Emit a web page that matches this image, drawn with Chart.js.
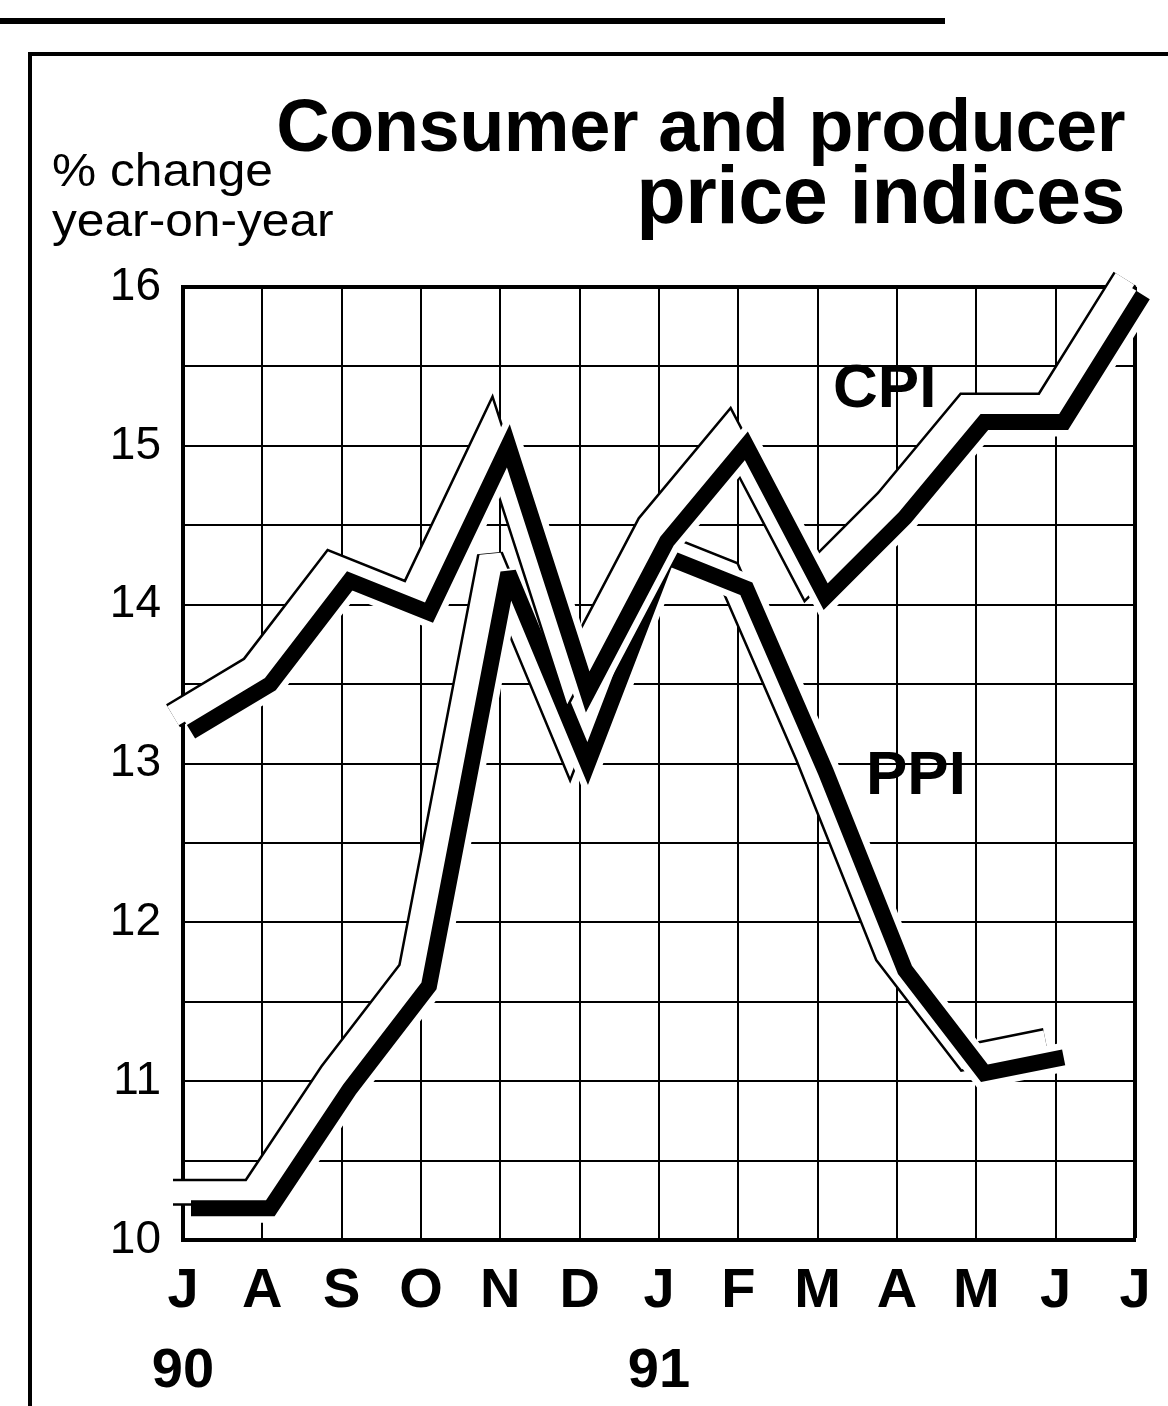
<!DOCTYPE html>
<html>
<head>
<meta charset="utf-8">
<title>Consumer and producer price indices</title>
<script src="https://cdn.jsdelivr.net/npm/chart.js@4.4.0/dist/chart.umd.min.js"></script>
<style>
  html, body { margin: 0; padding: 0; background: #fff; }
  body { width: 1168px; height: 1406px; position: relative; overflow: hidden;
         font-family: 'Liberation Sans', Arial, Helvetica, sans-serif; color: #000; }
  canvas { position: absolute; left: 0; top: 0; }
  .rule { position: absolute; background: #000; }
  .txt { position: absolute; white-space: nowrap; line-height: 1; }
  .title { font-weight: bold; right: 43px; letter-spacing: -0.5px; }
  .unit { font-size: 46px; left: 52px; transform: scaleX(1.08); transform-origin: left top; }
  .series { font-weight: bold; font-size: 62px; }
</style>
</head>
<body>
<canvas id="chart" width="1168" height="1406"></canvas>

<div class="rule" style="left:0;top:18px;width:945px;height:6px"></div>
<div class="rule" style="left:28px;top:52px;width:1140px;height:4px"></div>
<div class="rule" style="left:28px;top:52px;width:4px;height:1354px"></div>

<div class="txt title" style="top:89px;font-size:74px">Consumer and producer</div>
<div class="txt title" style="top:155px;font-size:81px">price indices</div>
<div class="txt unit" style="top:147px">% change</div>
<div class="txt unit" style="top:197px">year-on-year</div>
<div class="txt series" style="left:833px;top:355px">CPI</div>
<div class="txt series" style="left:866px;top:742px">PPI</div>

<script>
// months July 1990 - July 1991
const months = ['J', 'A', 'S', 'O', 'N', 'D', 'J', 'F', 'M', 'A', 'M', 'J', 'J'];
const years = ['90', '', '', '', '', '', '91', '', '', '', '', '', ''];

// % change year-on-year
const cpi = [13.2, 13.5, 14.15, 13.95, 15.0, 13.45, 14.4, 15.0, 14.05, 14.55, 15.15, 15.15, 15.95];
const ppi = [10.2, 10.2, 10.95, 11.6, 14.2, 13.0, 14.3, 14.1, 12.95, 11.7, 11.05, 11.15, null];

const yTicks = [10, 11, 12, 13, 14, 15, 16];

// ribbon look: hollow back face up-left, black front face shifted right
const BACK_DX = -10, BACK_DY = -16, FRONT_DX = 8;

const tracePath = (ctx, pts) => {
    ctx.beginPath();
    let started = false;
    pts.forEach(p => {
        if (p.skip) { started = false; return; }
        if (!started) { ctx.moveTo(p.x, p.y); started = true; }
        else ctx.lineTo(p.x, p.y);
    });
};

const ribbon = {
    id: 'ribbon',
    beforeDatasetDraw(chart, args) {
        const ctx = chart.ctx;
        const pts = args.meta.data;

        // back face: white band with black edges
        ctx.save();
        ctx.lineJoin = 'miter';
        ctx.miterLimit = 3;
        ctx.lineCap = 'butt';
        ctx.translate(BACK_DX, BACK_DY);
        tracePath(ctx, pts);
        ctx.strokeStyle = '#000';
        ctx.lineWidth = 27;
        ctx.stroke();
        ctx.strokeStyle = '#fff';
        ctx.lineWidth = 22;
        ctx.stroke();
        ctx.restore();

        // white casing so the front line cuts the grid
        ctx.save();
        ctx.lineJoin = 'miter';
        ctx.miterLimit = 3;
        ctx.translate(FRONT_DX, 0);
        tracePath(ctx, pts);
        ctx.strokeStyle = '#fff';
        ctx.lineWidth = 29;
        ctx.stroke();
        ctx.restore();

        // the library draws the black line with this shift
        ctx.save();
        ctx.miterLimit = 3;
        ctx.translate(FRONT_DX, 0);
    },
    afterDatasetDraw(chart) {
        chart.ctx.restore();
    }
};

const FONT = "'Liberation Sans', Arial, Helvetica, sans-serif";

const config = {
    type: 'line',
    data: {
        labels: months.map((m, i) => [m, years[i]]),
        datasets: [
            {
                label: 'CPI',
                data: cpi,
                borderColor: '#000',
                borderWidth: 16,
                borderJoinStyle: 'miter',
                borderCapStyle: 'butt',
                pointRadius: 0,
                tension: 0,
                clip: false
            },
            {
                label: 'PPI',
                data: ppi,
                borderColor: '#000',
                borderWidth: 16,
                borderJoinStyle: 'miter',
                borderCapStyle: 'butt',
                pointRadius: 0,
                tension: 0,
                spanGaps: false,
                clip: false
            }
        ]
    },
    options: {
        responsive: false,
        maintainAspectRatio: false,
        animation: false,
        layout: { padding: { top: 287, right: 33, left: 0, bottom: 0 } },
        plugins: {
            legend: { display: false },
            title: { display: false },
            tooltip: { enabled: false }
        },
        scales: {
            x: {
                type: 'category',
                offset: false,
                afterFit: s => { s.height = 1406 - 1240; },
                grid: {
                    color: '#000',
                    lineWidth: c => (c.index === 12 ? 4 : 2),
                    drawTicks: false,
                    offset: false
                },
                border: { display: true, color: '#000', width: 4 },
                ticks: {
                    color: '#000',
                    padding: 12,
                    maxRotation: 0,
                    autoSkip: false,
                    font: { family: FONT, size: 56, weight: 'bold', lineHeight: 1.42 }
                }
            },
            y: {
                min: 10,
                max: 16,
                afterFit: s => { s.width = 183; },
                grid: {
                    color: '#000',
                    lineWidth: c => (c.tick && c.tick.value === 16 ? 4 : 2),
                    drawTicks: false
                },
                border: { display: true, color: '#000', width: 4 },
                ticks: {
                    stepSize: 0.5,
                    color: '#000',
                    padding: 22,
                    font: { family: FONT, size: 46 },
                    callback: v => (yTicks.includes(v) ? String(v) : '')
                }
            }
        }
    },
    plugins: [ribbon]
};

const chart = new Chart(document.getElementById('chart').getContext('2d'), config);
</script>
</body>
</html>
